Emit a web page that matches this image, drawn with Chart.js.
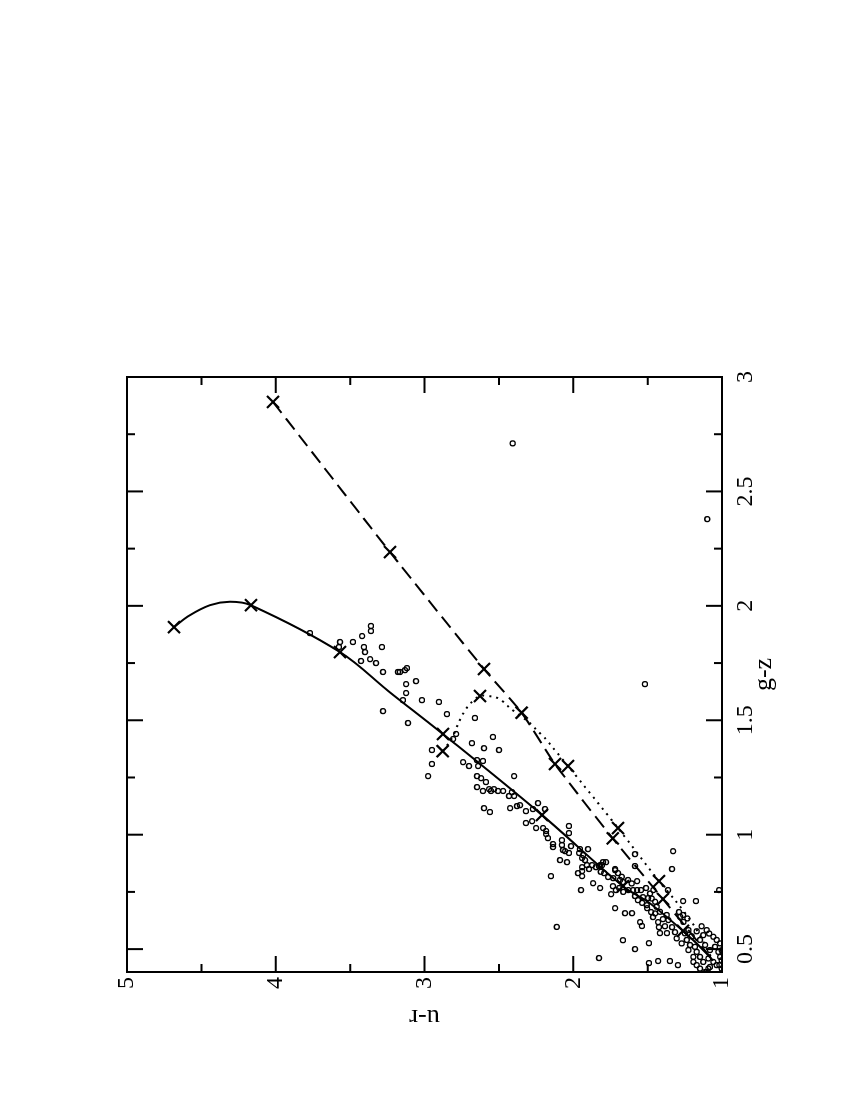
<!DOCTYPE html>
<html>
<head>
<meta charset="utf-8">
<script src="https://cdn.jsdelivr.net/npm/chart.js@4/dist/chart.umd.min.js"></script>
<style>
  html, body { margin: 0; padding: 0; background: #fff; overflow: hidden; width: 850px; height: 1100px; }
  /* the figure is printed sideways: draw it upright, then turn it a quarter left */
  #wrap {
    position: absolute; left: 0; top: 0; width: 1100px; height: 850px;
    transform-origin: 0 0; transform: translate(0, 1100px) rotate(-90deg);
  }
</style>
</head>
<body>
<div id="wrap"><canvas id="chart" width="1100" height="850"></canvas></div>
<script>
const GZ_TICKS = [0.5, 1, 1.5, 2, 2.5, 3];
const UR_TICKS = [1, 2, 3, 4, 5];

// observed galaxies (g-z, u-r)
const GZ_OBS = [
  1.881, 1.842, 1.820, 1.842, 1.868, 1.912, 1.890, 1.820, 1.798, 1.759, 1.767, 1.750, 1.820, 1.711, 1.711, 1.711,
  1.719, 1.728, 1.658, 1.671, 1.619, 1.588, 1.588, 1.580, 1.540, 1.488, 1.527, 1.510, 1.440, 1.418, 1.370, 1.309,
  1.256, 1.400, 1.378, 1.427, 1.370, 1.317, 1.300, 1.326, 1.322, 1.300, 1.256, 1.247, 1.230, 1.208, 1.191, 1.199,
  1.191, 1.191, 1.191, 1.199, 1.256, 1.186, 1.169, 1.169, 1.138, 1.116, 1.099, 1.116, 1.125, 1.129, 1.103, 1.112,
  1.112, 1.051, 1.059, 1.029, 1.029, 1.016, 1.003, 0.985, 0.959, 0.946, 0.976, 0.955, 0.933, 0.928, 1.038, 1.007,
  0.950, 0.920, 0.889, 0.880, 0.819, 0.937, 0.920, 0.911, 0.898, 0.889, 0.937, 0.858, 0.841, 0.850, 0.880, 0.863,
  0.867, 0.850, 0.832, 0.819, 0.758, 0.867, 0.867, 0.858, 0.867, 0.880, 0.788, 0.767, 0.461, 0.832, 0.815, 0.845,
  0.832, 0.802, 0.793, 0.802, 0.775, 0.758, 0.767, 0.740, 0.679, 0.657, 0.657, 0.539, 0.500, 0.439, 0.448, 0.448,
  0.526, 0.430, 0.758, 0.758, 0.758, 0.767, 0.797, 0.863, 0.915, 0.714, 0.727, 0.723, 0.618, 0.601, 0.679, 0.662,
  0.640, 0.618, 0.631, 0.596, 0.570, 0.570, 0.596, 0.574, 0.928, 0.850, 0.758, 0.710, 0.710, 0.758, 0.662, 0.649,
  0.838, 0.816, 0.810, 0.787, 0.750, 0.758, 0.743, 0.758, 0.732, 0.721, 0.707, 0.702, 0.692, 0.685, 0.663, 0.656,
  0.649, 0.627, 0.600, 0.641, 0.619, 0.634, 0.547, 0.525, 0.540, 0.518, 0.496, 0.510, 0.488, 0.466, 0.466, 0.444,
  0.459, 0.444, 0.430, 0.422, 0.400, 0.540, 0.561, 0.583, 0.568, 0.554, 0.540, 0.510, 0.525, 0.518, 0.496, 0.488,
  0.466, 0.430, 0.600, 0.578, 0.556, 0.583, 0.569, 0.495, 0.451, 0.430, 0.415, 0.415, 0.400, 0.444, 0.415,
  2.710, 2.379, 1.658, 0.597
];
const UR_OBS = [
  3.770, 3.568, 3.575, 3.481, 3.420, 3.360, 3.360, 3.407, 3.400, 3.427, 3.366, 3.326, 3.286, 3.279, 3.178, 3.165,
  3.131, 3.118, 3.124, 3.057, 3.124, 3.145, 3.017, 2.903, 3.279, 3.111, 2.849, 2.661, 2.788, 2.808, 2.950, 2.950,
  2.976, 2.681, 2.600, 2.540, 2.499, 2.741, 2.701, 2.647, 2.607, 2.640, 2.647, 2.620, 2.587, 2.647, 2.607, 2.566,
  2.553, 2.506, 2.472, 2.533, 2.398, 2.412, 2.432, 2.398, 2.237, 2.600, 2.560, 2.425, 2.378, 2.358, 2.318, 2.271,
  2.190, 2.318, 2.277, 2.250, 2.203, 2.183, 2.183, 2.170, 2.136, 2.136, 2.076, 2.076, 2.069, 2.055, 2.029, 2.029,
  2.015, 2.029, 2.089, 2.042, 2.150, 1.955, 1.961, 1.934, 1.941, 1.921, 1.901, 1.941, 1.941, 1.894, 1.780, 1.827,
  1.807, 1.719, 1.968, 1.941, 1.948, 1.908, 1.874, 1.847, 1.820, 1.800, 1.867, 1.820, 1.827, 1.793, 1.766, 1.719,
  1.699, 1.686, 1.666, 1.632, 1.733, 1.713, 1.692, 1.746, 1.719, 1.652, 1.605, 1.666, 1.585, 1.491, 1.430, 1.350,
  1.491, 1.296, 1.598, 1.571, 1.545, 1.511, 1.571, 1.585, 1.585, 1.565, 1.531, 1.497, 1.551, 1.538, 1.504, 1.477,
  1.464, 1.430, 1.397, 1.424, 1.417, 1.370, 1.336, 1.316, 1.329, 1.336, 1.363, 1.262, 1.175, 1.020, 1.289, 1.262,
  1.815, 1.674, 1.731, 1.607, 1.664, 1.630, 1.484, 1.462, 1.585, 1.473, 1.450, 1.537, 1.506, 1.439, 1.417, 1.450,
  1.372, 1.361, 1.384, 1.281, 1.259, 1.233, 1.305, 1.271, 1.237, 1.215, 1.226, 1.182, 1.170, 1.193, 1.148, 1.126,
  1.092, 1.058, 1.036, 1.081, 1.103, 1.148, 1.126, 1.103, 1.086, 1.058, 1.036, 1.047, 1.013, 1.114, 1.081, 1.025,
  1.013, 1.170, 1.137, 1.170, 1.204, 1.226, 1.249, 1.002, 1.002, 1.018, 1.002, 1.148, 1.114, 1.193, 1.092,
  2.407, 1.099, 1.518, 2.111
];

// model tracks: solid curve
const SOLID_GZ = [1.907, 1.958, 2.003, 2.018, 2.003, 1.798, 1.622, 1.440, 1.086, 0.775, 0.700, 0.539, 0.450];
const SOLID_UR = [4.684, 4.580, 4.442, 4.308, 4.168, 3.568, 3.232, 2.876, 2.210, 1.666, 1.484, 1.193, 1.060];
const SOLID_MARK_GZ = [1.907, 2.003, 1.798, 1.440, 1.086, 0.775, 0.580];
const SOLID_MARK_UR = [4.684, 4.166, 3.568, 2.876, 2.210, 1.666, 1.262];

// dashed track
const DASH_GZ = [2.891, 2.235, 1.724, 1.533, 1.309, 0.984, 0.719, 0.450];
const DASH_UR = [4.018, 3.232, 2.600, 2.347, 2.123, 1.735, 1.397, 1.060];
const DASH_MARK_GZ = [2.891, 2.235, 1.724, 1.533, 1.309, 0.984, 0.719];
const DASH_MARK_UR = [4.018, 3.232, 2.600, 2.347, 2.123, 1.735, 1.397];

// dotted track
const DOT_GZ = [1.365, 1.420, 1.486, 1.530, 1.572, 1.606, 1.604, 1.596, 1.575, 1.553, 1.488, 1.457, 1.422, 1.378, 1.300, 1.029, 0.797, 0.714, 0.597, 0.450];
const DOT_UR = [2.878, 2.817, 2.773, 2.739, 2.694, 2.627, 2.548, 2.504, 2.459, 2.425, 2.291, 2.246, 2.190, 2.134, 2.035, 1.699, 1.424, 1.316, 1.182, 1.060];
const DOT_MARK_GZ = [1.365, 1.606, 1.300, 1.029, 0.797];
const DOT_MARK_UR = [2.878, 2.627, 2.035, 1.699, 1.424];

const FONT = "'Liberation Serif', 'DejaVu Serif', serif";

function pairs(xs, ys) {
  return xs.map((x, i) => ({ x, y: ys[i] }));
}

function trackLine(xs, ys, dash, tension) {
  return {
    data: pairs(xs, ys),
    showLine: true,
    borderColor: "#000",
    borderWidth: 2,
    borderDash: dash,
    tension,
    pointRadius: 0,
    clip: false,
  };
}

function trackMarks(xs, ys) {
  return {
    data: pairs(xs, ys),
    showLine: false,
    pointStyle: "crossRot",
    pointRadius: 8.5,
    pointBorderWidth: 2.2,
    borderColor: "#000",
    backgroundColor: "#000",
  };
}

// box round the plot with inward ticks on all four sides
const frameTicks = {
  id: "frameTicks",
  afterDatasetsDraw(chart) {
    const { ctx, chartArea: a, scales: { x, y } } = chart;
    const mids = (t) => t.slice(1).map((v, i) => (v + t[i]) / 2);
    ctx.save();
    ctx.strokeStyle = "#000";
    ctx.lineWidth = 2;
    ctx.strokeRect(a.left, a.top, a.right - a.left, a.bottom - a.top);
    ctx.beginPath();
    const xTick = (v, len) => {
      const px = x.getPixelForValue(v);
      ctx.moveTo(px, a.bottom); ctx.lineTo(px, a.bottom - len);
      ctx.moveTo(px, a.top); ctx.lineTo(px, a.top + len);
    };
    const yTick = (v, len) => {
      const py = y.getPixelForValue(v);
      ctx.moveTo(a.left, py); ctx.lineTo(a.left + len, py);
      ctx.moveTo(a.right, py); ctx.lineTo(a.right - len, py);
    };
    GZ_TICKS.forEach((v) => xTick(v, 16));
    mids(GZ_TICKS).forEach((v) => xTick(v, 8));
    UR_TICKS.forEach((v) => yTick(v, 16));
    mids(UR_TICKS).forEach((v) => yTick(v, 8));
    ctx.stroke();
    ctx.restore();
  },
};

Chart.defaults.color = "#000";

new Chart(document.getElementById("chart"), {
  type: "scatter",
  data: {
    datasets: [
      {
        data: pairs(GZ_OBS, UR_OBS),
        pointStyle: "circle",
        pointRadius: 2.5,
        pointBorderWidth: 1.3,
        borderColor: "#000",
        backgroundColor: "rgba(0,0,0,0)",
      },
      trackLine(SOLID_GZ, SOLID_UR, [], 0.35),
      trackMarks(SOLID_MARK_GZ, SOLID_MARK_UR),
      trackLine(DASH_GZ, DASH_UR, [14, 7], 0.2),
      trackMarks(DASH_MARK_GZ, DASH_MARK_UR),
      trackLine(DOT_GZ, DOT_UR, [2, 5], 0.3),
      trackMarks(DOT_MARK_GZ, DOT_MARK_UR),
    ],
  },
  options: {
    responsive: false,
    animation: false,
    devicePixelRatio: 1,
    layout: { padding: { left: 68, top: 127, right: 377, bottom: 68 } },
    plugins: { legend: { display: false }, tooltip: { enabled: false } },
    scales: {
      x: {
        type: "linear",
        position: "bottom",
        min: 0.4,
        max: 3,
        afterBuildTicks: (s) => { s.ticks = GZ_TICKS.map((v) => ({ value: v })); },
        afterFit: (s) => { s.height = 60; },
        grid: { display: false, drawTicks: false },
        border: { display: false },
        ticks: { padding: 9, maxRotation: 0, autoSkip: false, font: { family: FONT, size: 24 }, callback: (v) => String(v) },
        title: { display: true, text: "g-z", font: { family: FONT, size: 26 }, padding: { top: 0, bottom: 2 } },
      },
      y: {
        type: "linear",
        position: "left",
        min: 1,
        max: 5,
        afterBuildTicks: (s) => { s.ticks = UR_TICKS.map((v) => ({ value: v })); },
        afterFit: (s) => { s.width = 60; },
        grid: { display: false, drawTicks: false },
        border: { display: false },
        ticks: { padding: 5, font: { family: FONT, size: 24 }, callback: (v) => String(v) },
        title: { display: true, text: "u-r", font: { family: FONT, size: 26 }, padding: { top: 0, bottom: 0 } },
      },
    },
  },
  plugins: [frameTicks],
});
</script>
</body>
</html>
